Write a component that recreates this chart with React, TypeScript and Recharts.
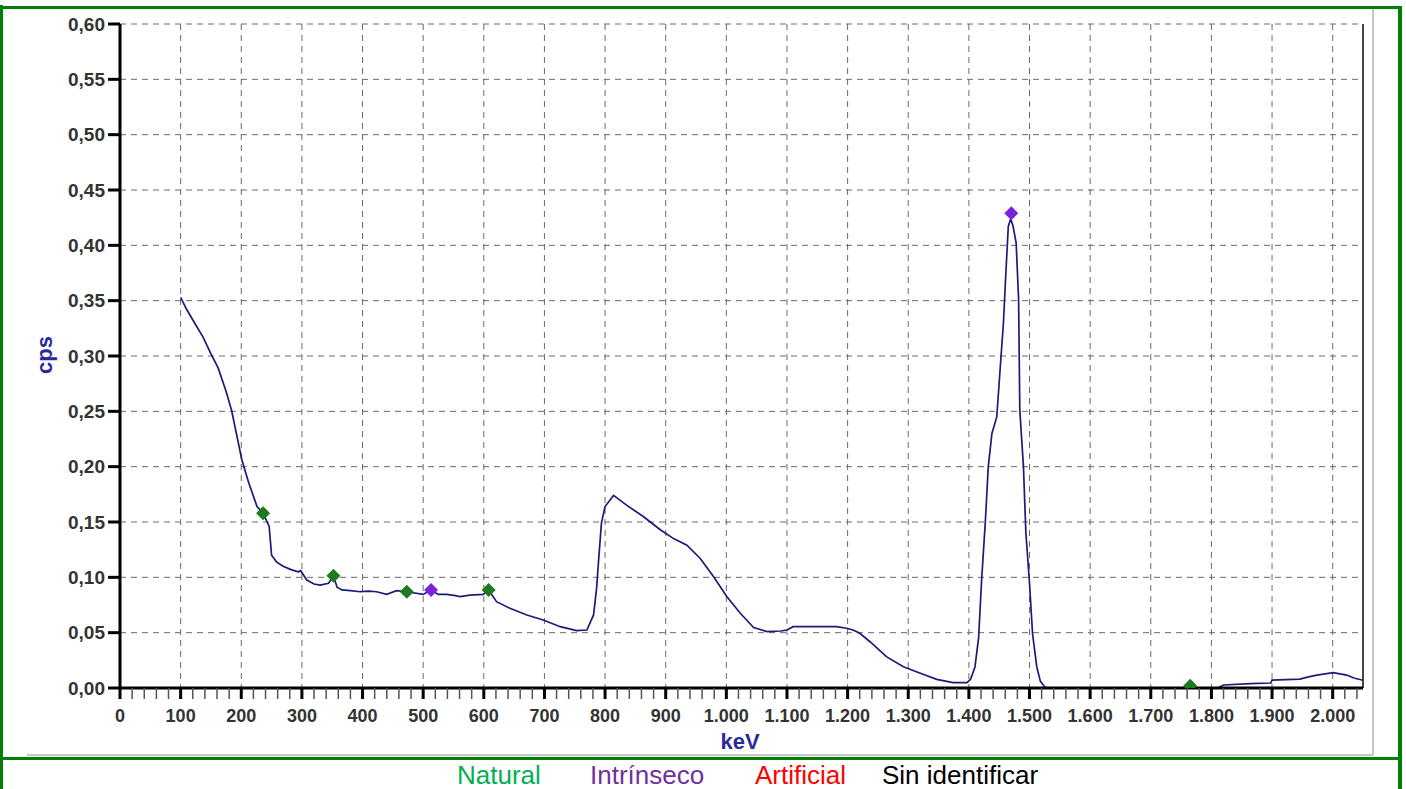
import React from 'react';
import {
  ComposedChart,
  Line,
  Scatter,
  XAxis,
  YAxis,
  CartesianGrid,
  ReferenceLine,
} from 'recharts';

// spectrum (keV / cps)
const energyKeV = [
  100, 110, 125, 137, 150, 162, 175, 184, 195, 201, 212, 226, 236, 246, 250, 258, 269, 282, 294, 298,
  308, 320, 330, 344, 352, 358, 366, 380, 396, 410, 423, 440, 456, 473, 500, 513, 525, 539, 553, 561,
  577, 599, 608, 621, 643, 671, 698, 726, 753, 770, 781, 786, 789, 794, 800, 814, 836, 863, 891, 913,
  935, 957, 979, 1001, 1023, 1045, 1067, 1090, 1100, 1110, 1182, 1198, 1209, 1220, 1237, 1264, 1292,
  1320, 1347, 1374, 1397, 1403, 1410, 1416, 1421, 1427, 1432, 1438, 1446, 1451, 1457, 1461, 1465,
  1469, 1473, 1478, 1482, 1484, 1490, 1494, 1500, 1505, 1512, 1518, 1525, 1530, 1810, 1820, 1864,
  1898, 1900, 1946, 1960, 1974, 2001, 2023, 2035, 2050,
];
const countsCps = [
  0.353, 0.342, 0.328, 0.317, 0.302, 0.289, 0.268, 0.251, 0.222, 0.206, 0.186, 0.164, 0.158, 0.146, 0.12, 0.114, 0.11, 0.107, 0.105, 0.106,
  0.0976, 0.094, 0.093, 0.0946, 0.1015, 0.091, 0.0886, 0.088, 0.087, 0.0875, 0.087, 0.0846, 0.088, 0.087, 0.0846, 0.0886, 0.0846, 0.0846, 0.0835, 0.0825,
  0.084, 0.0846, 0.0886, 0.078, 0.072, 0.066, 0.0614, 0.0554, 0.0518, 0.0524, 0.066, 0.09, 0.113, 0.149, 0.164, 0.174, 0.165, 0.155, 0.143, 0.135,
  0.129, 0.117, 0.1006, 0.0825, 0.0675, 0.0547, 0.051, 0.0515, 0.0524, 0.0554, 0.0554, 0.054, 0.0524, 0.0494, 0.0418, 0.0283, 0.0192,
  0.0133, 0.0078, 0.0048, 0.0048, 0.008, 0.019, 0.045, 0.0976, 0.149, 0.2, 0.23, 0.245, 0.284, 0.33, 0.375, 0.417,
  0.424, 0.417, 0.402, 0.351, 0.251, 0.2, 0.14, 0.0946, 0.049, 0.019, 0.006, 0.001, 0, 0, 0.0027, 0.004,
  0.0045, 0.0072, 0.008, 0.01, 0.0117, 0.0138, 0.0117, 0.009, 0.007,
];

// identified peaks
const naturalKeV = [236, 352, 473, 608, 1765];
const naturalCps = [0.158, 0.1015, 0.087, 0.0886, 0.002];
const intrinsicKeV = [513, 1470];
const intrinsicCps = [0.0886, 0.429];

const majorXTicks = [0, 100, 200, 300, 400, 500, 600, 700, 800, 900, 1000, 1100, 1200, 1300, 1400, 1500, 1600, 1700, 1800, 1900, 2000];
const yTicks = [0, 0.05, 0.1, 0.15, 0.2, 0.25, 0.3, 0.35, 0.4, 0.45, 0.5, 0.55, 0.6];
const X_MAX = 2050;

const legendItems = [
  { label: 'Natural', color: '#00b050', left: 457 },
  { label: 'Intrínseco', color: '#7030a0', left: 590 },
  { label: 'Artificial', color: '#ff0000', left: 755 },
  { label: 'Sin identificar', color: '#000000', left: 882 },
];

const zip = (xs: number[], ys: number[]) => xs.map((x, i) => ({ x, y: ys[i] }));
const spectrum = zip(energyKeV, countsCps);
const natural = zip(naturalKeV, naturalCps);
const intrinsic = zip(intrinsicKeV, intrinsicCps);

const minorXTicks: number[] = [];
for (let v = 0; v <= X_MAX; v += 20) minorXTicks.push(v);

const fmtX = (v: number) => String(v).replace(/\B(?=(\d{3})+(?!\d))/g, '.');
const fmtY = (v: number) => v.toFixed(2).replace('.', ',');

const FONT = '"Liberation Sans", Arial, sans-serif';

const XTick = (props: any) => {
  const { x, y, payload } = props;
  const v = payload.value;
  const major = v % 100 === 0;
  return (
    <g>
      <line x1={x} x2={x} y1={y} y2={y + 11} stroke={major ? '#000' : '#555'} strokeWidth={major ? 3 : 1.5} />
      {major && (
        <text x={x} y={y + 34} textAnchor="middle" fontFamily={FONT} fontWeight="bold" fontSize={18} fill="#333">
          {fmtX(v)}
        </text>
      )}
    </g>
  );
};

const diamond = (color: string) => (props: any) => {
  const { cx, cy } = props;
  const r = 7;
  return <polygon points={`${cx},${cy - r} ${cx + r},${cy} ${cx},${cy + r} ${cx - r},${cy}`} fill={color} />;
};

export default function App() {
  return (
    <div style={{ position: 'absolute', left: 0, top: 0, width: 1406, height: 789, background: '#fff', fontFamily: FONT }}>
      <div style={{ position: 'absolute', left: 0, top: 0 }}>
        <ComposedChart width={1406} height={760} margin={{ top: 24, right: 43, left: 20, bottom: 32 }}>
          <CartesianGrid
            stroke="#6a6a6a"
            strokeDasharray="6 5"
            verticalCoordinatesGenerator={({ offset }: any) =>
              majorXTicks.map((v) => offset.left + (v / X_MAX) * offset.width)
            }
          />
          <XAxis
            dataKey="x"
            type="number"
            domain={[0, X_MAX]}
            ticks={minorXTicks}
            interval={0}
            tick={<XTick />}
            tickLine={false}
            tickSize={0}
            tickMargin={0}
            height={40}
            axisLine={{ stroke: '#000', strokeWidth: 3 }}
            allowDataOverflow
          />
          <YAxis
            type="number"
            domain={[0, 0.6]}
            ticks={yTicks}
            interval={0}
            width={100}
            tickFormatter={fmtY}
            tickSize={12}
            tickMargin={3}
            tickLine={{ stroke: '#000', strokeWidth: 3 }}
            axisLine={{ stroke: '#000', strokeWidth: 3 }}
            tick={{ fill: '#333', fontSize: 19, fontWeight: 'bold', fontFamily: FONT }}
            allowDataOverflow
          />
          <ReferenceLine x={X_MAX} stroke="#444" strokeWidth={2} />
          <Line
            data={spectrum}
            dataKey="y"
            type="linear"
            stroke="#1c1c78"
            strokeWidth={1.7}
            dot={false}
            activeDot={false}
            isAnimationActive={false}
          />
          <Scatter data={natural} dataKey="y" shape={diamond('#1f7a1f')} isAnimationActive={false} />
          <Scatter data={intrinsic} dataKey="y" shape={diamond('#7a22e0')} isAnimationActive={false} />
        </ComposedChart>
      </div>

      {/* axis titles */}
      <div
        style={{
          position: 'absolute',
          left: 45,
          top: 355,
          transform: 'translate(-50%, -50%) rotate(-90deg)',
          color: '#2a2a9a',
          fontWeight: 'bold',
          fontSize: 22,
        }}
      >
        cps
      </div>
      <div
        style={{
          position: 'absolute',
          left: 740,
          top: 742,
          transform: 'translate(-50%, -50%)',
          color: '#2a2a9a',
          fontWeight: 'bold',
          fontSize: 22,
        }}
      >
        keV
      </div>

      {/* image edge lines */}
      <div style={{ position: 'absolute', left: 1372, top: 9, width: 2, height: 746, background: '#c8c8c8' }} />
      <div style={{ position: 'absolute', left: 27, top: 754, width: 1347, height: 2, background: '#c8c8c8' }} />

      {/* green frame */}
      <div style={{ position: 'absolute', left: 0, top: 6, width: 1402, height: 3, background: '#008000' }} />
      <div style={{ position: 'absolute', left: 0, top: 5, width: 3, height: 784, background: '#008000' }} />
      <div style={{ position: 'absolute', left: 1398, top: 6, width: 4, height: 783, background: '#008000' }} />
      <div style={{ position: 'absolute', left: 0, top: 757, width: 1402, height: 3, background: '#008000' }} />

      {/* legend */}
      {legendItems.map((it) => (
        <div
          key={it.label}
          style={{
            position: 'absolute',
            left: it.left,
            top: 761,
            color: it.color,
            fontSize: 26,
            lineHeight: '29px',
            whiteSpace: 'nowrap',
          }}
        >
          {it.label}
        </div>
      ))}
    </div>
  );
}
